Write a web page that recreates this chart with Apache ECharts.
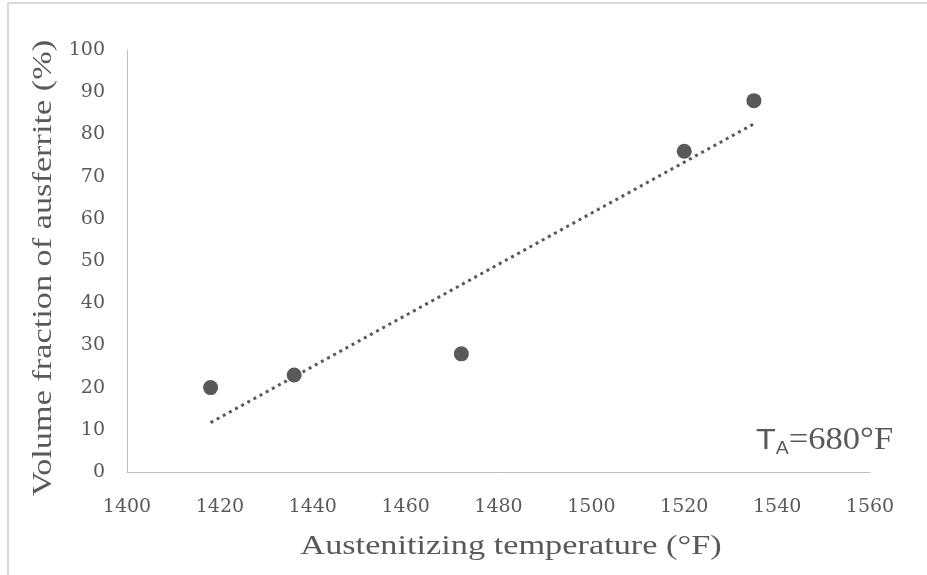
<!DOCTYPE html>
<html>
<head>
<meta charset="utf-8">
<script src="https://cdn.jsdelivr.net/npm/echarts@6/dist/echarts.min.js"></script>
<style>
  html, body { margin: 0; padding: 0; background: #fff; }
  #chart { width: 927px; height: 575px; }
</style>
</head>
<body>
<div id="chart"></div>
<script>
// data
const temps = [1418, 1436, 1472, 1520, 1535];
const fractions = [20, 23, 28, 76, 88];
// linear trendline ends, as drawn in the picture
const trendX = [1418, 1535];
const trendY = [11.7, 82.5];

const xTitle = 'Austenitizing temperature (°F)';
const yTitle = 'Volume fraction of ausferrite (%)';

const GREY = '#595959';
const SERIF = '"Liberation Serif", "DejaVu Serif", serif';
const WIDE_SERIF = '"DejaVu Serif", serif';

const chart = echarts.init(document.getElementById('chart'));

const option = {
  backgroundColor: '#fff',
  animation: false,
  grid: { left: 127, right: 57, top: 50, bottom: 103 },
  xAxis: {
    type: 'value',
    min: 1400, max: 1560, interval: 20,
    axisLine: { show: true, lineStyle: { color: '#bfbfbf', width: 1 } },
    axisTick: { show: false },
    splitLine: { show: false },
    axisLabel: {
      color: GREY, fontFamily: WIDE_SERIF, fontSize: 19, margin: 26,
      formatter: v => String(v)
    }
  },
  yAxis: {
    type: 'value',
    min: 0, max: 100, interval: 10,
    axisLine: { show: true, lineStyle: { color: '#bfbfbf', width: 1 } },
    axisTick: { show: false },
    splitLine: { show: false },
    axisLabel: { color: GREY, fontFamily: WIDE_SERIF, fontSize: 19, margin: 22 }
  },
  series: [
    {
      type: 'line',
      data: trendX.map((x, i) => [x, trendY[i]]),
      showSymbol: false,
      lineStyle: { color: GREY, width: 3, type: [3, 4] },
      z: 1
    },
    {
      type: 'scatter',
      data: temps.map((x, i) => [x, fractions[i]]),
      symbolSize: 15,
      itemStyle: { color: GREY, opacity: 1 },
      z: 2
    }
  ],
  graphic: [
    { type: 'line', silent: true, shape: { x1: 8, y1: 3, x2: 927, y2: 3 }, style: { stroke: '#d9d9d9', lineWidth: 2 } },
    { type: 'line', silent: true, shape: { x1: 8, y1: 3, x2: 8, y2: 575 }, style: { stroke: '#d9d9d9', lineWidth: 2 } },
    // axis titles, stretched sideways like the source image
    {
      type: 'text', silent: true,
      x: 511, y: 547, scaleX: 1.27,
      style: {
        text: xTitle, fill: GREY, font: '27px ' + SERIF,
        align: 'center', verticalAlign: 'middle'
      }
    },
    {
      type: 'text', silent: true,
      x: 44, y: 268, rotation: Math.PI / 2, scaleX: 1.27,
      style: {
        text: yTitle, fill: GREY, font: '27px ' + SERIF,
        align: 'center', verticalAlign: 'middle'
      }
    },
    {
      type: 'text', silent: true,
      x: 756, y: 424, scaleX: 1.08,
      style: {
        text: '{t|T}{s|A}{u|=680°F}',
        fill: GREY,
        rich: {
          t: { fontFamily: '"Liberation Sans", sans-serif', fontSize: 30, fill: GREY },
          s: { fontFamily: '"Liberation Sans", sans-serif', fontSize: 18, fill: GREY, padding: [16, 0, 0, 0] },
          u: { fontFamily: SERIF, fontSize: 32, fill: GREY }
        }
      }
    }
  ]
};

chart.setOption(option);
</script>
</body>
</html>
